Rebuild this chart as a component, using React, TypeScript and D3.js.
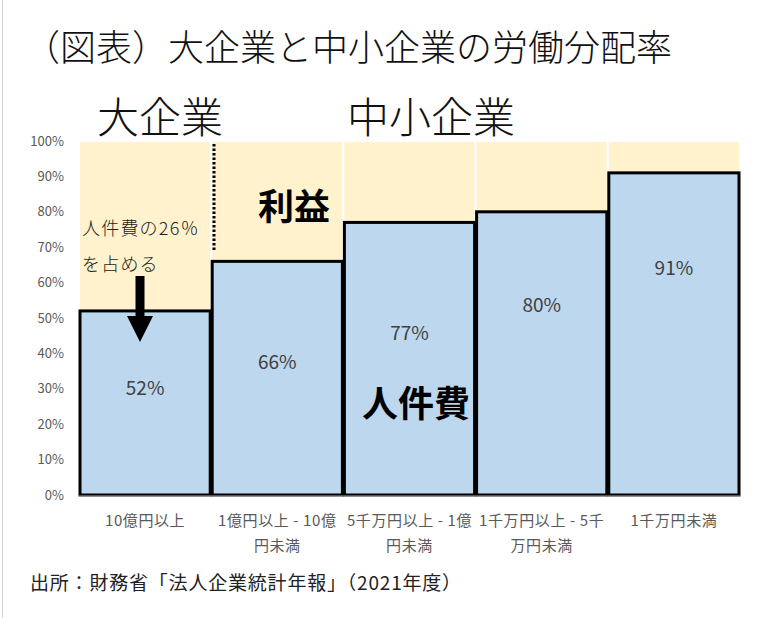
import React from 'react';
import * as d3 from 'd3';

// 資本金規模別の労働分配率（%）
const sizeLabels = [
  ['10億円以上'],
  ['1億円以上 - 10億', '円未満'],
  ['5千万円以上 - 1億', '円未満'],
  ['1千万円以上 - 5千', '万円未満'],
  ['1千万円未満'],
];
const laborShare = [52, 66, 77, 80, 91];
const yTicks = [0, 10, 20, 30, 40, 50, 60, 70, 80, 90, 100];

const title = '（図表）大企業と中小企業の労働分配率';
const source = '出所：財務省「法人企業統計年報」（2021年度）';

const W = 768;
const H = 618;
const JP = '"Noto Sans CJK JP", "Noto Sans", sans-serif';

export default function App() {
  const margin = { top: 141, left: 79, right: 28, bottom: 123 };
  const x = d3
    .scaleBand<number>()
    .domain(laborShare.map((_, i) => i))
    .range([margin.left, W - margin.right])
    .padding(0);
  const y = d3.scaleLinear().domain([0, 100]).range([H - margin.bottom, margin.top]);

  // where the value labels sit inside each bar (in axis units), hand-placed in the original
  const labelAt = [30, 37.6, 45.8, 53.7, 64.1];

  const bw = x.bandwidth();
  const cx = (i: number) => (x(i) as number) + bw / 2;

  return (
    <svg
      width={W}
      height={H}
      style={{ position: 'absolute', left: 0, top: 0, background: '#fff' }}
      fontFamily={JP}
    >
      <line x1={2.5} x2={2.5} y1={0} y2={H} stroke="#d4d4d4" strokeWidth={1} />

      <text x={24} y={61} fontSize={36} fontWeight={300} fill="#111">
        {title}
      </text>

      <text x={160} y={133} fontSize={42} fontWeight={300} textAnchor="middle" fill="#111">
        大企業
      </text>
      <text x={431} y={133} fontSize={42} fontWeight={300} textAnchor="middle" fill="#111">
        中小企業
      </text>

      {/* 利益（背景） */}
      {laborShare.map((v, i) => (
        <rect
          key={'p' + i}
          x={x(i)}
          y={y(100)}
          width={bw}
          height={y(v) - y(100)}
          fill="#FFF2CC"
          stroke="#fff"
          strokeWidth={2}
        />
      ))}

      {/* 人件費 */}
      {laborShare.map((v, i) => (
        <rect
          key={'b' + i}
          x={(x(i) as number) + 1}
          y={y(v)}
          width={bw - 2}
          height={y(0) - y(v)}
          fill="#BDD7EE"
          stroke="#000"
          strokeWidth={3}
        />
      ))}

      <line
        x1={margin.left}
        x2={W - margin.right}
        y1={y(0) + 1}
        y2={y(0) + 1}
        stroke="#a6a6a6"
        strokeWidth={1}
      />

      {yTicks.map((t) => (
        <text
          key={'y' + t}
          x={64}
          y={y(t)}
          dy="0.35em"
          textAnchor="end"
          fontSize={13}
          fill="#595959"
        >
          {t}%
        </text>
      ))}

      {sizeLabels.map((lines, i) =>
        lines.map((s, j) => (
          <text
            key={'x' + i + j}
            x={cx(i)}
            y={521 + j * 25}
            dy="0.35em"
            textAnchor="middle"
            fontSize={15}
            letterSpacing={0.6}
            fill="#595959"
          >
            {s}
          </text>
        ))
      )}

      {laborShare.map((v, i) => (
        <text
          key={'l' + i}
          x={cx(i)}
          y={y(labelAt[i])}
          dy="0.35em"
          textAnchor="middle"
          fontSize={19}
          fill="#404040"
        >
          {v}%
        </text>
      ))}

      <text x={294} y={207} dy="0.35em" textAnchor="middle" fontSize={36} fontWeight={700} fill="#000">
        利益
      </text>
      <text x={416} y={404} dy="0.35em" textAnchor="middle" fontSize={36} fontWeight={700} fill="#000">
        人件費
      </text>

      {/* 大企業 / 中小企業 の境目 */}
      <line
        x1={214}
        x2={214}
        y1={144}
        y2={251}
        stroke="#000"
        strokeWidth={3}
        strokeDasharray="2.5 2"
      />

      <text x={82} y={229} dy="0.35em" fontSize={18} letterSpacing={1.2} fontWeight={300} fill="#222">
        人件費の26％
      </text>
      <text x={82} y={265} dy="0.35em" fontSize={18} letterSpacing={1.2} fontWeight={300} fill="#222">
        を占める
      </text>
      <line x1={140} x2={140} y1={276} y2={318} stroke="#000" strokeWidth={9} />
      <path d="M127,316 L153,316 L140,342 Z" fill="#000" />

      <text x={30} y={583} dy="0.35em" fontSize={19} letterSpacing={0.8} fill="#222">
        {source}
      </text>
    </svg>
  );
}
